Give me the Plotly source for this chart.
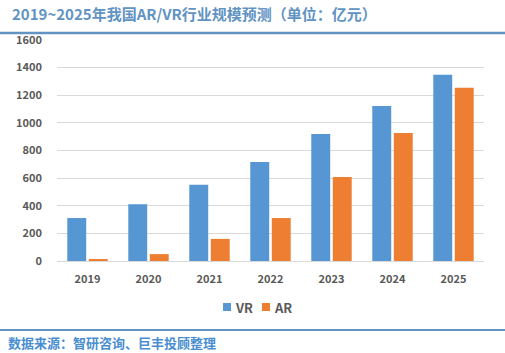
import plotly.graph_objects as go

years = ["2019", "2020", "2021", "2022", "2023", "2024", "2025"]
vr = [311, 410, 552, 717, 920, 1123, 1348]
ar = [14, 50, 160, 311, 608, 927, 1254]
y_ticks = [0, 200, 400, 600, 800, 1000, 1200, 1400, 1600]

series_names = ["VR", "AR"]
series_colors = ["#5596D3", "#EE7E32"]

title_text = "2019~2025年我国AR/VR行业规模预测（单位：亿元）"
source_text = "数据来源：智研咨询、巨丰投顾整理"

W, H = 505, 353
ml, mr, mt, mb = 57, 21, 40, 92
PW, PH = W - ml - mr, H - mt - mb


def px(x):
    return (x - ml) / PW


def py(y):
    return (H - mb - y) / PH


fig = go.Figure()
for name, vals, col in zip(series_names, [vr, ar], series_colors):
    fig.add_trace(go.Bar(name=name, x=years, y=vals, marker=dict(color=col, line=dict(width=0))))

font_cjk = "Noto Sans CJK SC, Microsoft YaHei, sans-serif"

fig.update_layout(
    width=W, height=H,
    margin=dict(l=ml, r=mr, t=mt, b=mb),
    paper_bgcolor="white", plot_bgcolor="white",
    barmode="group", bargap=0.295, bargroupgap=0.12,
    showlegend=False,
    font=dict(family=font_cjk),
)
fig.update_xaxes(
    showgrid=False, showline=True, linecolor="#D9D9D9", linewidth=1,
    ticks="", tickfont=dict(family=font_cjk, size=11, color="#595959", weight="bold"),
    ticklabelstandoff=8,
)
fig.update_yaxes(
    range=[0, 1600], tickvals=y_ticks, showgrid=True, gridcolor="#D9D9D9", gridwidth=1,
    zeroline=False, showline=False, ticks="",
    tickfont=dict(family=font_cjk, size=11, color="#595959", weight="bold"),
    ticklabelstandoff=14,
)

# legend (drawn manually for compact spacing)
legend_x = [223, 262]
for name, col, lx in zip(series_names, series_colors, legend_x):
    fig.add_shape(type="rect", xref="paper", yref="paper",
                  x0=px(lx), x1=px(lx + 8), y0=py(303), y1=py(311),
                  fillcolor=col, line=dict(width=0))
    fig.add_annotation(text=name, xref="paper", yref="paper",
                       x=px(lx + 10), y=py(307), xanchor="left", yanchor="middle",
                       showarrow=False,
                       font=dict(family=font_cjk, size=13, color="#595959", weight="bold"))

# title
fig.add_annotation(text=title_text, xref="paper", yref="paper",
                   x=px(10), y=py(14), xanchor="left", yanchor="middle", showarrow=False,
                   font=dict(family=font_cjk, size=15, color="#6193C3", weight="bold"))
fig.add_shape(type="line", xref="paper", yref="paper",
              x0=px(0), x1=px(W), y0=py(33), y1=py(33),
              line=dict(color="#6193C3", width=2.5))
# footer
fig.add_shape(type="line", xref="paper", yref="paper",
              x0=px(0), x1=px(W), y0=py(330), y1=py(330),
              line=dict(color="#6193C3", width=2))
fig.add_annotation(text=source_text, xref="paper", yref="paper",
                   x=px(6), y=py(342), xanchor="left", yanchor="middle", showarrow=False,
                   font=dict(family=font_cjk, size=13, color="#4A8ED0", weight="bold"))

fig.write_html("out.html")
